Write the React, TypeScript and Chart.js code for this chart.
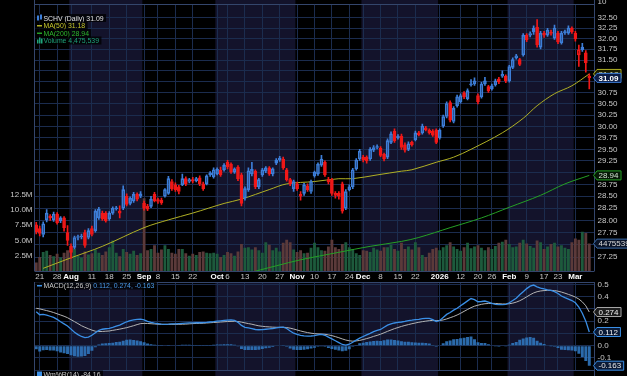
import React, { useEffect, useRef } from 'react';
import { Chart, registerables } from 'chart.js';

Chart.register(...registerables);

const FONT = '"Liberation Sans", Arial, sans-serif';
const NAVY = '#13132b';
const GRID = '#1b2c4e';
const FRAME = '#34466c';
const LABEL = '#c8c8c8';
const UP = '#3d7ed8';
const DOWN = '#f01818';
const VOL_UP = '#1d5a3c';
const VOL_DOWN = '#5b3a3a';
const MA50_COLOR = '#b0b024';
const MA200_COLOR = '#25a025';
const MACD_COLOR = '#3a8fe6';
const SIGNAL_COLOR = '#b4b4b4';
const HIST_COLOR = 'rgba(48,118,188,0.9)';

// Trading days shown on the chart (month -> days)
const monthDays: [string, number[]][] = [
  ['2025-07', [18, 21, 22, 23, 24, 25, 28, 29, 30, 31]],
  ['2025-08', [1, 4, 5, 6, 7, 8, 11, 12, 13, 14, 15, 18, 19, 20, 21, 22, 25, 26, 27, 28, 29]],
  ['2025-09', [2, 3, 4, 5, 8, 9, 10, 11, 12, 15, 16, 17, 18, 19, 22, 23, 24, 25, 26, 29, 30]],
  ['2025-10', [1, 2, 3, 6, 7, 8, 9, 10, 13, 14, 15, 16, 17, 20, 21, 22, 23, 24, 27, 28, 29, 30, 31]],
  ['2025-11', [3, 4, 5, 6, 7, 10, 11, 12, 13, 14, 17, 18, 19, 20, 21, 24, 25, 26, 28]],
  ['2025-12', [1, 2, 3, 4, 5, 8, 9, 10, 11, 12, 15, 16, 17, 18, 19, 22, 23, 24, 26, 29, 30, 31]],
  ['2026-01', [2, 5, 6, 7, 8, 9, 12, 13, 14, 15, 16, 20, 21, 22, 23, 26, 27, 28, 29, 30]],
  ['2026-02', [2, 3, 4, 5, 6, 9, 10, 11, 12, 13, 17, 18, 19, 20, 23, 24, 25, 26, 27]],
  ['2026-03', [2, 3, 4, 5, 6]],
];

const xTickLabels: Record<string, string> = {
  '2025-07-21': '21', '2025-07-28': '28', '2025-08-01': 'Aug', '2025-08-11': '11', '2025-08-18': '18',
  '2025-08-25': '25', '2025-09-02': 'Sep', '2025-09-08': '8', '2025-09-15': '15', '2025-09-22': '22',
  '2025-10-01': 'Oct', '2025-10-06': '6', '2025-10-13': '13', '2025-10-20': '20', '2025-10-27': '27',
  '2025-11-03': 'Nov', '2025-11-10': '10', '2025-11-17': '17', '2025-11-24': '24', '2025-12-01': 'Dec',
  '2025-12-08': '8', '2025-12-15': '15', '2025-12-22': '22', '2026-01-02': '2026', '2026-01-12': '12',
  '2026-01-20': '20', '2026-01-26': '26', '2026-02-02': 'Feb', '2026-02-09': '9', '2026-02-17': '17',
  '2026-02-23': '23', '2026-03-02': 'Mar',
};
const monthTickLabels = ['Aug', 'Sep', 'Oct', 'Nov', 'Dec', '2026', 'Feb', 'Mar'];

const opens = [
  27.91, 27.83, 27.71, 28.01, 28.09, 28.01, 28.13, 27.99, 28.05, 27.75,
  27.47, 27.45, 27.65, 27.66, 27.75, 27.65, 27.83, 27.79, 28.05, 28.15,
  28.15, 28.03, 28.15, 28.24, 28.19, 28.25, 28.50, 28.35, 28.40, 28.54,
  28.50, 28.35, 28.29, 28.29, 28.54, 28.43, 28.42, 28.50, 28.56, 28.81,
  28.74, 28.70, 28.74, 28.87, 28.81, 28.85, 28.83, 28.89, 28.76, 28.76,
  28.99, 28.91, 28.97, 29.05, 29.06, 29.22, 29.18, 29.01, 29.12, 28.95,
  28.46, 28.64, 28.97, 29.03, 28.70, 28.95, 29.03, 29.10, 28.97, 29.27,
  29.27, 29.29, 29.06, 28.85, 28.66, 28.76, 28.54, 28.56, 28.72, 28.60,
  28.93, 28.97, 29.16, 29.22, 28.85, 28.85, 28.56, 28.56, 28.76, 28.25,
  28.64, 28.70, 29.08, 29.29, 29.33, 29.33, 29.29, 29.48, 29.54, 29.52,
  29.39, 29.33, 29.65, 29.90, 29.75, 29.79, 29.60, 29.50, 29.65, 29.71,
  29.86, 29.86, 29.97, 29.92, 29.90, 29.92, 29.75, 30.01, 30.22, 30.53,
  30.11, 30.46, 30.55, 30.75, 30.62, 30.93, 30.95, 30.69, 30.66, 30.95,
  30.89, 30.84, 30.93, 31.06, 31.13, 31.13, 31.02, 31.33, 31.55, 31.51,
  31.62, 32.08, 32.08, 32.25, 32.27, 31.80, 32.13, 32.08, 32.15, 32.01,
  32.13, 31.90, 32.14, 32.13, 32.25, 32.13, 31.62, 31.74, 31.67, 31.13,
];
const highs = [
  27.96, 27.88, 27.97, 28.22, 28.12, 28.17, 28.16, 28.08, 28.08, 27.89,
  27.52, 27.68, 27.70, 27.72, 27.80, 27.83, 27.88, 28.22, 28.27, 28.19,
  28.18, 28.18, 28.28, 28.29, 28.30, 28.72, 28.55, 28.49, 28.58, 28.57,
  28.60, 28.40, 28.33, 28.50, 28.58, 28.46, 28.46, 28.66, 28.92, 28.85,
  28.78, 28.73, 28.97, 28.91, 28.88, 28.90, 28.90, 28.93, 28.80, 28.95,
  29.02, 29.10, 29.10, 29.12, 29.19, 29.26, 29.21, 29.10, 29.15, 28.99,
  28.70, 29.10, 29.22, 29.06, 28.88, 29.09, 29.13, 29.13, 29.10, 29.30,
  29.35, 29.33, 29.09, 28.88, 28.84, 28.80, 28.60, 28.77, 28.76, 28.84,
  29.03, 29.21, 29.37, 29.25, 28.90, 28.88, 28.60, 28.60, 28.80, 28.64,
  28.74, 29.09, 29.30, 29.50, 29.37, 29.36, 29.54, 29.58, 29.60, 29.56,
  29.42, 29.73, 29.88, 29.95, 29.82, 29.83, 29.64, 29.66, 29.68, 29.90,
  29.89, 30.05, 30.00, 29.95, 29.93, 29.95, 29.95, 30.25, 30.55, 30.57,
  30.44, 30.70, 30.73, 30.78, 30.84, 31.05, 31.09, 30.73, 30.99, 31.10,
  30.92, 30.95, 31.06, 31.10, 31.25, 31.16, 31.38, 31.55, 31.63, 31.54,
  32.12, 32.12, 32.16, 32.30, 32.45, 32.17, 32.17, 32.24, 32.20, 32.32,
  32.17, 32.17, 32.20, 32.30, 32.28, 32.17, 31.85, 31.89, 31.72, 31.18,
];
const lows = [
  27.72, 27.68, 27.66, 27.97, 28.00, 27.98, 27.92, 27.95, 27.78, 27.49,
  27.23, 27.42, 27.60, 27.62, 27.45, 27.62, 27.68, 27.76, 28.02, 28.00,
  27.96, 28.00, 28.12, 28.21, 28.05, 28.22, 28.30, 28.32, 28.37, 28.40,
  28.47, 28.21, 28.20, 28.26, 28.38, 28.35, 28.33, 28.48, 28.54, 28.62,
  28.60, 28.55, 28.72, 28.72, 28.78, 28.78, 28.80, 28.72, 28.62, 28.74,
  28.92, 28.88, 28.95, 28.92, 29.03, 29.08, 28.98, 28.98, 28.83, 28.30,
  28.42, 28.60, 28.93, 28.66, 28.66, 28.92, 29.00, 28.94, 28.93, 29.17,
  29.24, 29.07, 28.82, 28.72, 28.60, 28.62, 28.42, 28.52, 28.60, 28.56,
  28.90, 28.94, 29.13, 28.92, 28.76, 28.52, 28.46, 28.44, 28.15, 28.22,
  28.61, 28.66, 29.05, 29.26, 29.23, 29.20, 29.26, 29.45, 29.51, 29.34,
  29.25, 29.30, 29.62, 29.65, 29.72, 29.50, 29.44, 29.47, 29.57, 29.68,
  29.79, 29.83, 29.90, 29.83, 29.78, 29.62, 29.72, 29.98, 30.19, 30.10,
  30.08, 30.43, 30.52, 30.62, 30.59, 30.90, 30.92, 30.50, 30.63, 30.92,
  30.76, 30.81, 30.90, 30.96, 31.10, 30.98, 30.99, 31.30, 31.52, 31.37,
  31.59, 31.93, 32.04, 32.10, 31.80, 31.76, 32.03, 32.05, 32.08, 31.98,
  31.88, 31.87, 32.10, 32.10, 32.12, 31.94, 31.35, 31.70, 31.22, 30.84,
];
const closes = [
  27.77, 27.73, 27.93, 28.15, 28.05, 28.13, 27.95, 28.05, 27.85, 27.59,
  27.35, 27.65, 27.67, 27.68, 27.49, 27.79, 27.71, 28.19, 28.23, 28.03,
  27.99, 28.15, 28.25, 28.26, 28.15, 28.64, 28.33, 28.46, 28.54, 28.44,
  28.55, 28.25, 28.23, 28.44, 28.40, 28.39, 28.36, 28.64, 28.87, 28.66,
  28.64, 28.60, 28.87, 28.76, 28.85, 28.82, 28.87, 28.76, 28.66, 28.93,
  28.95, 29.06, 29.07, 28.95, 29.16, 29.12, 29.01, 29.08, 28.87, 28.35,
  28.66, 29.04, 29.07, 28.70, 28.85, 29.06, 29.10, 28.97, 29.08, 29.20,
  29.31, 29.10, 28.85, 28.76, 28.81, 28.66, 28.50, 28.74, 28.64, 28.81,
  29.01, 29.18, 29.29, 28.95, 28.80, 28.56, 28.52, 28.50, 28.19, 28.60,
  28.70, 29.06, 29.27, 29.46, 29.27, 29.25, 29.50, 29.54, 29.56, 29.37,
  29.29, 29.69, 29.84, 29.69, 29.79, 29.54, 29.48, 29.62, 29.60, 29.86,
  29.82, 30.01, 29.93, 29.86, 29.81, 29.65, 29.92, 30.22, 30.51, 30.14,
  30.40, 30.66, 30.69, 30.66, 30.80, 30.95, 31.02, 30.55, 30.95, 31.02,
  30.80, 30.91, 31.02, 31.00, 31.17, 31.02, 31.35, 31.51, 31.60, 31.40,
  32.08, 31.97, 32.12, 32.16, 31.85, 32.13, 32.08, 32.20, 32.12, 32.25,
  31.92, 32.13, 32.16, 32.25, 32.16, 31.99, 31.74, 31.80, 31.44, 31.09,
];
// volume in millions of shares
const volumes = [
  1.4, 2.3, 3.1, 3.3, 2.6, 2.4, 2.8, 2.2, 3.0, 3.4,
  4.0, 3.6, 2.5, 2.2, 3.2, 2.7, 2.9, 3.5, 3.0, 2.6,
  3.2, 3.9, 5.0, 3.0, 2.4, 3.6, 3.1, 2.8, 3.3, 2.6,
  2.9, 11.9, 3.4, 3.6, 4.2, 3.0, 3.5, 4.2, 3.6, 3.0,
  2.8, 3.6, 3.6, 2.9, 2.5, 2.8, 2.6, 3.1, 3.2, 3.0,
  2.9, 3.0, 2.8, 2.3, 2.6, 3.1, 2.9, 2.5, 3.2, 4.4,
  3.8, 3.9, 3.5, 3.9, 3.4, 3.0, 4.7, 4.3, 3.4, 3.8,
  3.2, 4.6, 5.1, 4.7, 3.5, 3.1, 3.4, 2.9, 3.0, 3.8,
  4.6, 3.9, 3.4, 3.3, 4.0, 5.1, 3.9, 3.6, 4.4, 4.7,
  3.9, 3.6, 2.9, 2.6, 3.4, 3.3, 3.1, 3.8, 3.5, 3.3,
  3.9, 3.9, 4.3, 3.6, 3.3, 4.6, 3.6, 4.0, 3.5, 4.7,
  3.9, 2.6, 2.3, 3.0, 3.6, 3.8, 3.4, 3.9, 4.2, 4.7,
  4.0, 3.6, 3.3, 3.9, 4.6, 3.7, 4.0, 4.2, 3.8, 3.4,
  3.9, 3.6, 4.1, 4.6, 4.8, 5.1, 4.4, 3.9, 4.0, 4.6,
  5.1, 4.5, 4.1, 3.8, 5.0, 4.7, 3.6, 4.0, 4.4, 4.6,
  4.0, 4.2, 3.8, 3.6, 4.7, 5.3, 5.1, 6.4, 6.2, 4.475539,
];
// [trading-day number, value]
const ma50Points: [number, number][] = [
  [2, 27.03], [10, 27.24], [19, 27.47], [31, 27.85], [38, 28.01], [45, 28.15], [54, 28.35],
  [59, 28.44], [67, 28.64], [72, 28.76], [80, 28.81], [87, 28.87], [91, 28.87], [98, 28.95],
  [105, 29.03], [108, 29.06], [115, 29.22], [120, 29.33], [125, 29.5], [134, 29.86], [140, 30.18],
  [144, 30.46], [149, 30.73], [154, 30.91], [159, 31.18],
];
const ma200Points: [number, number][] = [
  [60, 26.92], [69, 27.08], [76, 27.2], [87, 27.35], [96, 27.47], [105, 27.57], [110, 27.65],
  [119, 27.85], [128, 28.05], [136, 28.27], [145, 28.52], [152, 28.76], [159, 28.94],
];
const macdLine = [
  0.277, 0.252, 0.255, 0.25, 0.24, 0.23, 0.215, 0.195, 0.178, 0.16,
  0.135, 0.11, 0.09, 0.075, 0.066, 0.07, 0.085, 0.105, 0.125, 0.134,
  0.138, 0.142, 0.15, 0.16, 0.168, 0.182, 0.195, 0.205, 0.21, 0.214,
  0.217, 0.21, 0.198, 0.19, 0.184, 0.18, 0.176, 0.174, 0.175, 0.177,
  0.178, 0.18, 0.182, 0.184, 0.186, 0.186, 0.187, 0.187, 0.188, 0.19,
  0.193, 0.196, 0.2, 0.203, 0.206, 0.208, 0.21, 0.207, 0.19, 0.165,
  0.15, 0.145, 0.14, 0.132, 0.13, 0.131, 0.134, 0.137, 0.14, 0.145,
  0.15, 0.152, 0.14, 0.12, 0.102, 0.092, 0.085, 0.08, 0.078, 0.079,
  0.082, 0.088, 0.092, 0.085, 0.07, 0.055, 0.04, 0.025, 0.01, 0.005,
  0.012, 0.028, 0.045, 0.062, 0.075, 0.088, 0.1, 0.115, 0.125, 0.132,
  0.15, 0.168, 0.178, 0.185, 0.19, 0.193, 0.198, 0.205, 0.208, 0.212,
  0.215, 0.22, 0.223, 0.222, 0.212, 0.196, 0.205, 0.23, 0.255, 0.27,
  0.29, 0.305, 0.325, 0.345, 0.365, 0.384, 0.375, 0.358, 0.36, 0.364,
  0.355, 0.345, 0.337, 0.334, 0.335, 0.337, 0.35, 0.368, 0.386, 0.415,
  0.44, 0.465, 0.485, 0.494, 0.48, 0.47, 0.462, 0.455, 0.45, 0.44,
  0.425, 0.405, 0.392, 0.38, 0.368, 0.35, 0.315, 0.265, 0.2, 0.1116,
];
const signalLine = [
  0.305, 0.3, 0.293, 0.286, 0.279, 0.27, 0.26, 0.25, 0.24, 0.228,
  0.212, 0.196, 0.18, 0.163, 0.15, 0.138, 0.127, 0.118, 0.115, 0.116,
  0.118, 0.12, 0.125, 0.13, 0.135, 0.141, 0.147, 0.155, 0.163, 0.172,
  0.18, 0.182, 0.181, 0.179, 0.177, 0.175, 0.174, 0.174, 0.174, 0.174,
  0.174, 0.174, 0.175, 0.176, 0.178, 0.18, 0.181, 0.182, 0.183, 0.185,
  0.187, 0.189, 0.191, 0.193, 0.195, 0.197, 0.198, 0.199, 0.197, 0.192,
  0.186, 0.18, 0.175, 0.168, 0.162, 0.158, 0.155, 0.153, 0.151, 0.15,
  0.15, 0.15, 0.148, 0.143, 0.136, 0.128, 0.12, 0.113, 0.107, 0.102,
  0.098, 0.096, 0.095, 0.093, 0.088, 0.082, 0.074, 0.065, 0.055, 0.046,
  0.04, 0.037, 0.039, 0.043, 0.05, 0.058, 0.066, 0.076, 0.084, 0.094,
  0.105, 0.117, 0.128, 0.139, 0.148, 0.157, 0.165, 0.172, 0.179, 0.185,
  0.191, 0.196, 0.2, 0.204, 0.206, 0.205, 0.205, 0.21, 0.218, 0.228,
  0.238, 0.25, 0.264, 0.28, 0.295, 0.31, 0.322, 0.33, 0.337, 0.342,
  0.344, 0.345, 0.344, 0.342, 0.34, 0.34, 0.342, 0.347, 0.355, 0.366,
  0.381, 0.398, 0.415, 0.43, 0.44, 0.446, 0.449, 0.451, 0.451, 0.449,
  0.444, 0.437, 0.428, 0.418, 0.408, 0.396, 0.38, 0.357, 0.325, 0.2744,
];
const priceTicks = [27.25, 27.5, 27.75, 28, 28.25, 28.5, 28.75, 29, 29.25, 29.5, 29.75, 30, 30.25, 30.5, 30.75, 31, 31.25, 31.5, 31.75, 32, 32.25, 32.5];
const volumeTicks = [2.5, 5, 7.5, 10, 12.5];
const macdTicks = [-0.1, 0, 0.1, 0.2, 0.3, 0.4, 0.5];
const symbolName = 'SCHV (Daily)';
const upperPanelTick = '10';
const wmrName = 'Wm%R(14)';
const wmrValue = -84.16;

const PRICE_MIN = 26.977;
const PRICE_MAX = 32.824;
const VOL_MAX = 43.63;
const MACD_MIN = -0.198;
const MACD_MAX = 0.519;

const dates = monthDays.flatMap(([m, ds]) => ds.map((d) => `${m}-${String(d).padStart(2, '0')}`));
const labels = [...dates, ''];
const N = dates.length;
const LAST = N - 1;
const ma50Last = ma50Points[ma50Points.length - 1][1];
const ma200Last = ma200Points[ma200Points.length - 1][1];
const histogram = macdLine.map((m, i) => m - signalLine[i]);

const T = 'rgba(0,0,0,0)';

function xScaleOptions(showLabels: boolean) {
  return {
    type: 'category',
    offset: true,
    grid: {
      offset: false,
      drawTicks: false,
      lineWidth: 1,
      color: (c: any) => (xTickLabels[labels[c.index]] ? GRID : T),
    },
    border: { display: false },
    ticks: {
      display: showLabels,
      autoSkip: false,
      maxRotation: 0,
      minRotation: 0,
      padding: 1,
      callback: (_v: any, i: number) => xTickLabels[labels[i]] || '',
      color: (c: any) => (monthTickLabels.includes(xTickLabels[labels[c.index]]) ? '#ffffff' : LABEL),
      font: (c: any) => ({
        family: FONT,
        size: 8,
        weight: monthTickLabels.includes(xTickLabels[labels[c.index]]) ? 'bold' : 'normal',
      }),
    },
    afterFit: (s: any) => {
      s.height = showLabels ? 11 : 0;
      s.paddingLeft = 0;
      s.paddingRight = 0;
    },
  };
}

function drawBands(chart: any, y0: number, y1: number) {
  const { ctx, chartArea: a, scales } = chart;
  const x = scales.x;
  const step = x.getPixelForValue(1) - x.getPixelForValue(0);
  let start = 0;
  for (let i = 1; i <= N; i++) {
    if (i === N || dates[i].slice(0, 7) !== dates[start].slice(0, 7)) {
      const m = Number(dates[start].slice(5, 7));
      if (m % 2 === 0) {
        const x0 = Math.max(a.left, x.getPixelForValue(start) - step / 2);
        const x1 = i === N ? a.right : x.getPixelForValue(i - 1) + step / 2;
        ctx.fillStyle = NAVY;
        ctx.fillRect(x0, y0, x1 - x0, y1 - y0);
      }
      start = i;
    }
  }
}

function drawTag(ctx: any, x0: number, y: number, text: string, border: string, fill: string, color: string, bold = false) {
  ctx.save();
  ctx.font = `${bold ? 'bold ' : ''}8px ${FONT}`;
  const w = ctx.measureText(text).width;
  const h = 9;
  ctx.beginPath();
  ctx.moveTo(x0, y);
  ctx.lineTo(x0 + 3.5, y - h / 2);
  ctx.lineTo(x0 + 3.5 + w + 4, y - h / 2);
  ctx.lineTo(x0 + 3.5 + w + 4, y + h / 2);
  ctx.lineTo(x0 + 3.5, y + h / 2);
  ctx.closePath();
  ctx.fillStyle = fill;
  ctx.fill();
  ctx.strokeStyle = border;
  ctx.lineWidth = 1;
  ctx.stroke();
  ctx.fillStyle = color;
  ctx.textAlign = 'left';
  ctx.textBaseline = 'middle';
  ctx.fillText(text, x0 + 5, y + 0.5);
  ctx.restore();
}

function legendRow(ctx: any, y: number, parts: [string, string][], icon: (ctx: any, y: number) => void) {
  ctx.save();
  ctx.font = `8px ${FONT}`;
  const scale = 0.86;
  let total = 0;
  parts.forEach(([t]) => (total += ctx.measureText(t).width * scale));
  ctx.fillStyle = 'rgba(0,0,0,0.75)';
  ctx.fillRect(35, y - 4, total + 11, 8);
  icon(ctx, y);
  let x = 43.5;
  ctx.textBaseline = 'middle';
  ctx.textAlign = 'left';
  parts.forEach(([t, c]) => {
    const w = ctx.measureText(t).width * scale;
    ctx.fillStyle = c;
    ctx.fillText(t, x, y + 0.5, w);
    x += w;
  });
  ctx.restore();
}

function lineIcon(color: string) {
  return (ctx: any, y: number) => {
    ctx.fillStyle = color;
    ctx.fillRect(37, y - 0.5, 5, 1.5);
  };
}

function mainTagPixels(chart: any): number[] {
  const y = chart.scales.y;
  const yv = chart.scales.yv;
  if (!y || !yv) return [];
  return [
    y.getPixelForValue(closes[LAST]),
    y.getPixelForValue(ma50Last),
    y.getPixelForValue(ma200Last),
    yv.getPixelForValue(volumes[LAST] * 1e6),
  ];
}

function macdTagPixels(chart: any): number[] {
  const y = chart.scales.y;
  if (!y) return [];
  return [macdLine[LAST], signalLine[LAST], histogram[LAST]].map((v) => y.getPixelForValue(v));
}

const mainPlugin = {
  id: 'mainDecor',
  beforeDraw(chart: any) {
    const { ctx, chartArea: a } = chart;
    ctx.save();
    ctx.fillStyle = '#000';
    ctx.fillRect(0, 0, chart.width, chart.height);
    drawBands(chart, 0, a.bottom);
    ctx.restore();
  },
  afterDraw(chart: any) {
    const { ctx, chartArea: a, scales } = chart;
    ctx.save();
    ctx.strokeStyle = FRAME;
    ctx.lineWidth = 1;
    ctx.beginPath();
    ctx.moveTo(a.left, 0);
    ctx.lineTo(a.left, a.bottom);
    ctx.moveTo(a.right, 0);
    ctx.lineTo(a.right, a.bottom);
    ctx.moveTo(a.left, a.top + 0.5);
    ctx.lineTo(a.right, a.top + 0.5);
    ctx.moveTo(a.left, a.bottom + 0.5);
    ctx.lineTo(a.right, a.bottom + 0.5);
    ctx.stroke();
    ctx.font = `8px ${FONT}`;
    ctx.fillStyle = LABEL;
    ctx.textBaseline = 'middle';
    ctx.textAlign = 'left';
    ctx.fillText(upperPanelTick, a.right + 3, 1.5);
    ctx.restore();

    const tx = a.right - 1;
    drawTag(ctx, tx, scales.yv.getPixelForValue(volumes[LAST] * 1e6), String(Math.round(volumes[LAST] * 1e6)), '#3a6aa8', '#0a1428', '#d8d8d8');
    drawTag(ctx, tx, scales.y.getPixelForValue(ma200Last), ma200Last.toFixed(2), MA200_COLOR, '#061806', '#d0e0d0');
    drawTag(ctx, tx, scales.y.getPixelForValue(ma50Last), ma50Last.toFixed(2), MA50_COLOR, '#1c1c00', '#e8e8a0');
    drawTag(ctx, tx, scales.y.getPixelForValue(closes[LAST]), closes[LAST].toFixed(2), UP, '#0c1c44', '#ffffff', true);

    legendRow(ctx, 18, [[`${symbolName} ${closes[LAST].toFixed(2)}`, '#e0e0e0']], (c, y) => {
      c.fillStyle = UP;
      c.fillRect(37, y - 2.5, 2, 5);
      c.fillRect(40, y - 3.5, 2, 5);
    });
    legendRow(ctx, 25.5, [[`MA(50) ${ma50Last.toFixed(2)}`, '#c8c82c']], lineIcon(MA50_COLOR));
    legendRow(ctx, 33, [[`MA(200) ${ma200Last.toFixed(2)}`, '#2eb82e']], lineIcon(MA200_COLOR));
    legendRow(ctx, 40.5, [[`Volume ${Math.round(volumes[LAST] * 1e6).toLocaleString('en-US')}`, '#1fa37a']], (c, y) => {
      c.fillStyle = '#1fa37a';
      c.fillRect(37, y - 1, 1.5, 4);
      c.fillRect(39, y - 3, 1.5, 6);
      c.fillRect(41, y - 2, 1.5, 5);
    });
  },
};

const macdPlugin = {
  id: 'macdDecor',
  beforeDraw(chart: any) {
    const { ctx, chartArea: a } = chart;
    ctx.save();
    ctx.fillStyle = '#000';
    ctx.fillRect(0, 0, chart.width, chart.height);
    drawBands(chart, a.top, chart.height);
    ctx.restore();
  },
  afterDraw(chart: any) {
    const { ctx, chartArea: a, scales } = chart;
    ctx.save();
    ctx.strokeStyle = FRAME;
    ctx.lineWidth = 1;
    ctx.beginPath();
    ctx.moveTo(a.left, a.top);
    ctx.lineTo(a.left, chart.height);
    ctx.moveTo(a.right, a.top);
    ctx.lineTo(a.right, chart.height);
    ctx.moveTo(a.left, a.top + 0.5);
    ctx.lineTo(a.right, a.top + 0.5);
    ctx.moveTo(a.left, a.bottom + 0.5);
    ctx.lineTo(a.right, a.bottom + 0.5);
    ctx.stroke();
    ctx.restore();

    const tx = a.right - 1;
    const y = scales.y;
    drawTag(ctx, tx, y.getPixelForValue(histogram[LAST]), histogram[LAST].toFixed(3), MACD_COLOR, '#0a1a36', '#e8e8e8');
    drawTag(ctx, tx, y.getPixelForValue(signalLine[LAST]), signalLine[LAST].toFixed(3), '#a8a8a8', '#1c1c1c', '#f0f0f0');
    drawTag(ctx, tx, y.getPixelForValue(macdLine[LAST]), macdLine[LAST].toFixed(3), MACD_COLOR, '#0a1a36', '#f0f0f0');

    legendRow(
      ctx,
      a.top + 3.5,
      [
        ['MACD(12,26,9) ', '#c8c8c8'],
        [`${macdLine[LAST].toFixed(3)}, ${signalLine[LAST].toFixed(3)}, ${histogram[LAST].toFixed(3)}`, '#4a9ae8'],
      ],
      lineIcon(MACD_COLOR),
    );
    legendRow(ctx, chart.height - 1.5, [[`${wmrName} ${wmrValue.toFixed(2)}`, '#c8c8c8']], (c, yy) => {
      c.fillStyle = MACD_COLOR;
      c.fillRect(37, yy - 3, 5, 5);
    });
  },
};

export default function App() {
  const mainRef = useRef<HTMLCanvasElement | null>(null);
  const macdRef = useRef<HTMLCanvasElement | null>(null);

  useEffect(() => {
    if (!mainRef.current || !macdRef.current) return;
    const upFlags = closes.map((c, i) => c >= (i > 0 ? closes[i - 1] : opens[i]));
    const candleColors = upFlags.map((u) => (u ? UP : DOWN));
    const bodyFill = closes.map((c, i) => (c < opens[i] ? candleColors[i] : T));

    const main = new Chart(mainRef.current, {
      type: 'bar',
      data: {
        labels,
        datasets: [
          {
            type: 'bar',
            label: 'Volume',
            data: volumes.map((v) => v * 1e6),
            yAxisID: 'yv',
            backgroundColor: upFlags.map((u) => (u ? VOL_UP : VOL_DOWN)),
            barPercentage: 0.82,
            categoryPercentage: 1,
            grouped: false,
            order: 10,
          },
          {
            type: 'line',
            label: 'MA(200)',
            data: ma200Points.map(([i, v]) => ({ x: labels[i], y: v })),
            yAxisID: 'y',
            borderColor: MA200_COLOR,
            borderWidth: 1,
            pointRadius: 0,
            tension: 0.35,
            order: 6,
          },
          {
            type: 'line',
            label: 'MA(50)',
            data: ma50Points.map(([i, v]) => ({ x: labels[i], y: v })),
            yAxisID: 'y',
            borderColor: MA50_COLOR,
            borderWidth: 1,
            pointRadius: 0,
            tension: 0.35,
            order: 5,
          },
          {
            type: 'bar',
            label: 'upper wick',
            data: dates.map((_, i) => [Math.max(opens[i], closes[i]), highs[i]]),
            yAxisID: 'y',
            backgroundColor: candleColors,
            barThickness: 1,
            grouped: false,
            order: 3,
          },
          {
            type: 'bar',
            label: 'lower wick',
            data: dates.map((_, i) => [lows[i], Math.min(opens[i], closes[i])]),
            yAxisID: 'y',
            backgroundColor: candleColors,
            barThickness: 1,
            grouped: false,
            order: 3,
          },
          {
            type: 'bar',
            label: 'SCHV',
            data: dates.map((_, i) => [Math.min(opens[i], closes[i]), Math.max(opens[i], closes[i])]),
            yAxisID: 'y',
            backgroundColor: bodyFill,
            borderColor: candleColors,
            borderWidth: 1,
            borderSkipped: false,
            barThickness: 3,
            minBarLength: 1,
            grouped: false,
            order: 1,
          },
        ],
      } as any,
      options: {
        animation: false,
        responsive: false,
        devicePixelRatio: 1,
        events: [],
        layout: { padding: { top: 4, left: 0, right: 0, bottom: 0 } },
        plugins: { legend: { display: false }, tooltip: { enabled: false } },
        scales: {
          x: xScaleOptions(true),
          y: {
            type: 'logarithmic',
            position: 'right',
            min: PRICE_MIN,
            max: PRICE_MAX,
            afterBuildTicks: (s: any) => {
              s.ticks = priceTicks.map((v) => ({ value: v }));
            },
            grid: { color: GRID, drawTicks: false },
            border: { display: false },
            ticks: {
              padding: 3,
              font: { family: FONT, size: 8 },
              callback: (v: any) => Number(v).toFixed(2),
              color: (c: any) => {
                const py = c.scale.getPixelForValue(c.tick.value);
                return mainTagPixels(c.chart).some((t) => Math.abs(t - py) < 6.5) ? T : LABEL;
              },
            },
            afterFit: (s: any) => {
              s.width = 32.5;
              s.paddingTop = 0;
              s.paddingBottom = 0;
            },
          },
          yv: {
            type: 'linear',
            position: 'left',
            min: 0,
            max: VOL_MAX * 1e6,
            afterBuildTicks: (s: any) => {
              s.ticks = volumeTicks.map((v) => ({ value: v * 1e6 }));
            },
            grid: { display: false, drawTicks: false },
            border: { display: false },
            ticks: {
              padding: 2,
              font: { family: FONT, size: 8 },
              color: LABEL,
              callback: (v: any) => (Number(v) / 1e6).toFixed(1) + 'M',
            },
            afterFit: (s: any) => {
              s.width = 34.5;
              s.paddingTop = 0;
              s.paddingBottom = 0;
            },
          },
        },
      } as any,
      plugins: [mainPlugin],
    });

    const macd = new Chart(macdRef.current, {
      type: 'bar',
      data: {
        labels,
        datasets: [
          {
            type: 'line',
            label: 'MACD',
            data: macdLine,
            borderColor: MACD_COLOR,
            borderWidth: 1.3,
            pointRadius: 0,
            order: 1,
          },
          {
            type: 'line',
            label: 'Signal',
            data: signalLine,
            borderColor: SIGNAL_COLOR,
            borderWidth: 1,
            pointRadius: 0,
            order: 2,
          },
          {
            type: 'bar',
            label: 'Histogram',
            data: histogram,
            backgroundColor: HIST_COLOR,
            barPercentage: 0.85,
            categoryPercentage: 1,
            order: 3,
          },
        ],
      } as any,
      options: {
        animation: false,
        responsive: false,
        devicePixelRatio: 1,
        events: [],
        layout: { padding: { top: 1, left: 34.5, right: 0, bottom: 6 } },
        plugins: { legend: { display: false }, tooltip: { enabled: false } },
        scales: {
          x: xScaleOptions(false),
          y: {
            type: 'linear',
            position: 'right',
            min: MACD_MIN,
            max: MACD_MAX,
            afterBuildTicks: (s: any) => {
              s.ticks = macdTicks.map((v) => ({ value: v }));
            },
            grid: { color: GRID, drawTicks: false },
            border: { display: false },
            ticks: {
              padding: 3,
              font: { family: FONT, size: 8 },
              callback: (v: any) => Number(v).toFixed(1),
              color: (c: any) => {
                const py = c.scale.getPixelForValue(c.tick.value);
                return macdTagPixels(c.chart).some((t) => Math.abs(t - py) < 6.5) ? T : LABEL;
              },
            },
            afterFit: (s: any) => {
              s.width = 32.5;
              s.paddingTop = 0;
              s.paddingBottom = 0;
            },
          },
        },
      } as any,
      plugins: [macdPlugin],
    });

    return () => {
      main.destroy();
      macd.destroy();
    };
  }, []);

  return (
    <div style={{ position: 'fixed', left: 0, top: 0, width: 627, height: 376, background: '#000', overflow: 'hidden' }}>
      <canvas ref={mainRef} width={627} height={282} style={{ position: 'absolute', left: 0, top: 0, width: 627, height: 282 }} />
      <canvas ref={macdRef} width={627} height={95} style={{ position: 'absolute', left: 0, top: 281, width: 627, height: 95 }} />
    </div>
  );
}
